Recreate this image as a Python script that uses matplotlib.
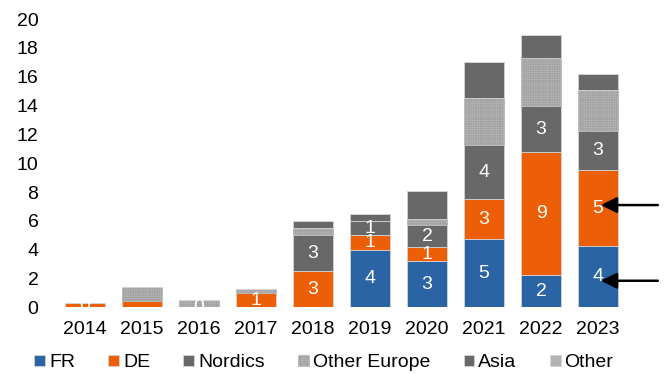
import matplotlib.pyplot as plt
import numpy as np

years = ['2014', '2015', '2016', '2017', '2018', '2019', '2020', '2021', '2022', '2023']
fr = [0, 0, 0, 0, 0, 4.0, 3.2, 4.75, 2.25, 4.25]
de = [0.3, 0.45, 0.05, 1.0, 2.5, 1.0, 1.0, 2.75, 8.5, 5.25]
nordics = [0, 0, 0, 0, 2.5, 1.0, 1.5, 3.75, 3.25, 2.75]
other_europe = [0, 1.0, 0.45, 0.3, 0.5, 0, 0.4, 3.25, 3.3, 2.85]
asia = [0, 0, 0, 0, 0.5, 0.5, 2.0, 2.55, 1.6, 1.1]
other = [0, 0, 0, 0, 0, 0, 0, 0, 0, 0]

# series with value labels, and bars where the label is left off
labelled = ['FR', 'DE', 'Nordics']
no_label = {('DE', '2015')}

series = [
    ('FR', fr, '#2a64a4', None),
    ('DE', de, '#ec5f06', None),
    ('Nordics', nordics, '#686868', None),
    ('Other Europe', other_europe, '#a2a2a2', '+++++++'),
    ('Asia', asia, '#686868', None),
    ('Other', other, '#b2b2b2', None),
]

plt.rcParams['font.family'] = ['Liberation Sans', 'DejaVu Sans']
plt.rcParams['font.size'] = 14
plt.rcParams['hatch.linewidth'] = 0.3

fig = plt.figure(figsize=(6.69, 3.74), dpi=100)
ax = fig.add_axes([0.0845, 0.178, 0.852, 0.771])

x = np.arange(len(years))
bottom = np.zeros(len(years))
for name, vals, col, hatch in series:
    vals = np.array(vals, dtype=float)
    ec = '#b8b8b8' if hatch else '#d4d4d4'
    ax.bar(x, vals, 0.7, bottom=bottom, color=col, edgecolor=ec,
           linewidth=0.6, hatch=hatch, label=name)
    if name in labelled:
        for i, v in enumerate(vals):
            if v <= 0 or (name, years[i]) in no_label:
                continue
            lab = str(int(np.floor(v + 0.5)))
            ax.text(x[i], bottom[i] + v / 2, lab, color='white',
                    ha='center', va='center', fontsize=14)
    bottom += vals

ax.set_xlim(-0.5, len(years) - 0.5)
ax.set_ylim(0, 20)
ax.set_yticks(range(0, 21, 2))
ax.set_xticks(x)
ax.set_xticklabels(years)
ax.tick_params(length=0)
ax.tick_params(axis='y', pad=13)
ax.tick_params(axis='x', pad=10)
for s in ax.spines.values():
    s.set_visible(False)

# arrows pointing at the 2023 labels
for ty in [7.1, 1.85]:
    ax.annotate('', xy=(9.05, ty), xytext=(10.05, ty),
                arrowprops=dict(arrowstyle='-|>', color='black', lw=1.8,
                                mutation_scale=24, shrinkA=0, shrinkB=0),
                annotation_clip=False)

fig.legend(loc='center', bbox_to_anchor=(0.484, 0.03), ncol=6, frameon=False,
           handlelength=0.55, handleheight=0.55, handletextpad=0.2,
           columnspacing=1.72, borderaxespad=0, fontsize=14)

fig.savefig('out.png', dpi=100)
